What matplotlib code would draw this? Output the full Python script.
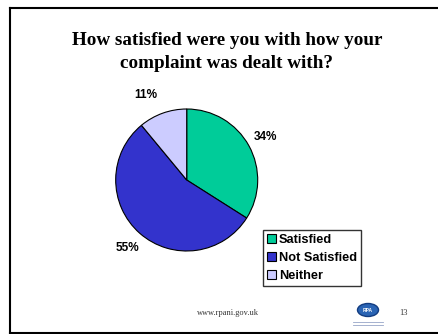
import matplotlib
matplotlib.use("Agg")
import matplotlib.pyplot as plt
from matplotlib.patches import Ellipse

# survey answers
categories = ["Satisfied", "Not Satisfied", "Neither"]
shares = [34, 55, 11]
colors = ["#00CC99", "#3333CC", "#CCCCFF"]

title = "How satisfied were you with how your\ncomplaint was dealt with?"
footer = "www.rpani.gov.uk"
page_no = "13"

W, H = 438, 334
fig = plt.figure(figsize=(W / 100, H / 100), dpi=100)
fig.patch.set_facecolor("white")

def fx(px):
    return px / W

def fy(py):
    return 1 - py / H

# slide border: left, top and bottom edges only
border = [((9.5, 7.5), (9.5, 332.5)),
          ((9.5, 7.5), (440, 7.5)),
          ((9.5, 332.5), (440, 332.5))]
for (x0, y0), (x1, y1) in border:
    fig.add_artist(plt.Line2D([fx(x0), fx(x1)], [fy(y0), fy(y1)],
                              transform=fig.transFigure, color="black",
                              linewidth=1.5, solid_capstyle="projecting"))

fig.text(fx(227), fy(52), title, ha="center", va="center",
         family="Liberation Serif", fontweight="bold", fontsize=13.8,
         linespacing=1.48)

# pie
cx, cy, r = 186.7, 180, 71
ax = fig.add_axes([fx(cx - r), fy(cy + r), 2 * r / W, 2 * r / H])
wedges, texts, autotexts = ax.pie(
    shares, colors=colors, startangle=90, counterclock=False,
    autopct="%1.0f%%", pctdistance=1.27,
    wedgeprops=dict(edgecolor="black", linewidth=0.8),
    textprops=dict(family="Liberation Sans", fontweight="bold", fontsize=8.5),
)
# the small slice label sits a little further left
autotexts[2].set_x(autotexts[2].get_position()[0] - 0.14)
ax.set_xlim(-1, 1)
ax.set_ylim(-1, 1)
ax.set_aspect("auto")
ax.axis("off")

leg = fig.legend(wedges, categories, loc="upper left",
                 bbox_to_anchor=(fx(263), fy(230)),
                 prop=dict(family="Liberation Sans", weight="bold", size=9.2),
                 frameon=True, fancybox=False, edgecolor="black",
                 handlelength=0.75, handleheight=0.75, handletextpad=0.2,
                 borderpad=0.3, labelspacing=0.45, borderaxespad=0)
leg.get_frame().set_linewidth(1.0)
for h in leg.legend_handles:
    h.set_linewidth(0.8)

fig.text(fx(228), fy(313), footer, ha="center", va="center",
         family="Liberation Serif", fontsize=6, color="#333333")
fig.text(fx(403), fy(313), page_no, ha="center", va="center",
         family="Liberation Serif", fontsize=6, color="#333333")

# logo
fig.add_artist(Ellipse((fx(368), fy(310)), 21 / W, 13 / H,
                       transform=fig.transFigure, facecolor="#2a64b4",
                       edgecolor="#123c80", linewidth=1))
fig.text(fx(368), fy(310), "RPA", ha="center", va="center",
         family="Liberation Sans", fontweight="bold", fontsize=3.5,
         color="white")
for yy in (321.5, 324.5):
    fig.add_artist(plt.Line2D([fx(353), fx(383)], [fy(yy), fy(yy)],
                              transform=fig.transFigure, color="#6a7fb0",
                              linewidth=0.6, alpha=0.7))

fig.savefig("out.png", dpi=100)
